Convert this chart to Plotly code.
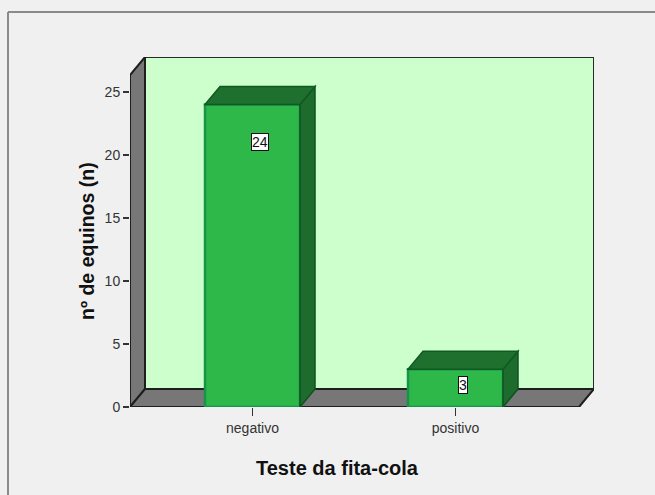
import plotly.graph_objects as go

categories = ["negativo", "positivo"]
counts = [24, 3]
y_ticks = [0, 5, 10, 15, 20, 25]
x_title = "Teste da fita-cola"
y_title = "nº de equinos (n)"

# geometry (pixels -> data units)
W, H = 655, 495
ML, MR, MT, MB = 130, 61, 57, 88
PX_PER_X = 203.0
PX_PER_Y = 12.6
plot_w = W - ML - MR
plot_h = H - MT - MB
xmin = -122.5 / PX_PER_X
xmax = xmin + plot_w / PX_PER_X
ymin = 0.0
ymax = plot_h / PX_PER_Y
DX = 15 / PX_PER_X
DY = 18 / PX_PER_Y
BW = 95 / PX_PER_X

xs = list(range(len(categories)))

fig = go.Figure()
fig.add_trace(go.Bar(
    x=xs, y=counts, width=BW,
    marker=dict(color="#2eb84a", line=dict(color="#17934a", width=2.5)),
    hoverinfo="skip", showlegend=False,
))

shapes = []
# back wall
shapes.append(dict(type="rect", xref="x", yref="y", x0=xmin + DX, x1=xmax, y0=DY, y1=ymax,
                   fillcolor="#ccffcc", line=dict(color="#2a2a2a", width=2), layer="below"))
# left wall
shapes.append(dict(type="path", xref="x", yref="y",
                   path=f"M{xmin},{0} L{xmin},{ymax-DY} L{xmin+DX},{ymax} L{xmin+DX},{DY} Z",
                   fillcolor="#777777", line=dict(color="#1e1e1e", width=2), layer="below"))
# floor
shapes.append(dict(type="path", xref="x", yref="y",
                   path=f"M{xmin},{0} L{xmax-DX},{0} L{xmax},{DY} L{xmin+DX},{DY} Z",
                   fillcolor="#777777", line=dict(color="#1e1e1e", width=2), layer="below"))
# 3D faces of bars
for x, v in zip(xs, counts):
    x0, x1 = x - BW / 2, x + BW / 2
    shapes.append(dict(type="path", xref="x", yref="y",
                       path=f"M{x1},{0} L{x1},{v} L{x1+DX},{v+DY} L{x1+DX},{DY} Z",
                       fillcolor="#1d6c2d", line=dict(color="#0e5220", width=1.5), layer="above"))
    shapes.append(dict(type="path", xref="x", yref="y",
                       path=f"M{x0},{v} L{x0+DX},{v+DY} L{x1+DX},{v+DY} L{x1},{v} Z",
                       fillcolor="#1f6f2f", line=dict(color="#0f5a23", width=1.5), layer="above"))

# outer frame (paper coords)
def px_to_paper_x(px):
    return (px - ML) / plot_w
def px_to_paper_y(py):
    return (H - MB - py) / plot_h

shapes.append(dict(type="line", xref="paper", yref="paper",
                   x0=px_to_paper_x(8), x1=px_to_paper_x(8), y0=px_to_paper_y(12), y1=px_to_paper_y(520),
                   line=dict(color="#8a8a8a", width=2)))
shapes.append(dict(type="line", xref="paper", yref="paper",
                   x0=px_to_paper_x(8), x1=px_to_paper_x(700), y0=px_to_paper_y(12), y1=px_to_paper_y(12),
                   line=dict(color="#8a8a8a", width=2)))

annotations = []
for x, v in zip(xs, counts):
    ly = v - 3 if v >= 6 else v * 0.58
    annotations.append(dict(x=x + DX / 2, y=ly, xref="x", yref="y", text=str(v), showarrow=False,
                            font=dict(family="Liberation Sans Narrow, Arial Narrow, Arial, sans-serif",
                                      size=14, color="#111111"),
                            bgcolor="#ffffff", bordercolor="#111111", borderwidth=1, borderpad=0))
annotations.append(dict(x=px_to_paper_x(337), y=px_to_paper_y(468), xref="paper", yref="paper",
                        text="<b>" + x_title + "</b>", showarrow=False,
                        font=dict(family="Liberation Sans, Arial, sans-serif", size=20, color="#111111"),
                        xanchor="center", yanchor="middle"))
annotations.append(dict(x=px_to_paper_x(87), y=px_to_paper_y(241), xref="paper", yref="paper",
                        text="<b>" + y_title + "</b>", showarrow=False, textangle=-90,
                        font=dict(family="Liberation Sans, Arial, sans-serif", size=19.5, color="#111111"),
                        xanchor="center", yanchor="middle"))

tick_font = dict(family="Liberation Sans, Arial, sans-serif", size=14, color="#333333")

fig.update_layout(
    width=W, height=H,
    margin=dict(l=ML, r=MR, t=MT, b=MB, autoexpand=False),
    paper_bgcolor="#f0f0f0", plot_bgcolor="rgba(0,0,0,0)",
    shapes=shapes, annotations=annotations,
    xaxis=dict(range=[xmin, xmax], tickvals=xs, ticktext=categories, ticks="outside",
               ticklen=8, tickwidth=1.5, tickcolor="#333333", showline=False, showgrid=False,
               zeroline=False, tickfont=tick_font, fixedrange=True),
    yaxis=dict(range=[ymin, ymax], tickvals=y_ticks, ticks="outside", ticklen=6, tickwidth=1.5,
               tickcolor="#333333", showline=False, showgrid=False, zeroline=False,
               tickfont=tick_font, fixedrange=True),
    bargap=0,
)

fig.write_html("out.html", config={"displayModeBar": False, "staticPlot": True},
               post_script="document.body.style.margin='0';document.body.style.background='#f0f0f0';")
